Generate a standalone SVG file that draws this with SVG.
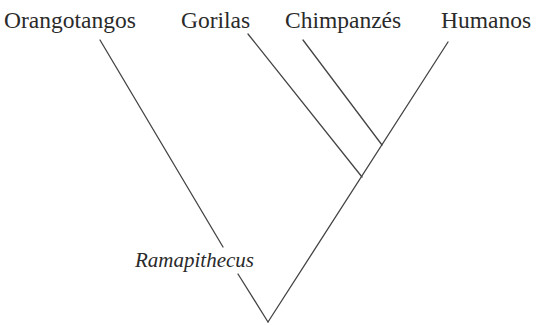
<svg xmlns="http://www.w3.org/2000/svg" width="536" height="326" viewBox="0 0 536 326">
<style>
.lbl{font-family:"Liberation Serif","Times New Roman",serif;font-size:23.5px;fill:#2a2a2a}
.it{font-family:"Liberation Serif","Times New Roman",serif;font-size:21px;font-style:italic;fill:#2a2a2a}
.edge{stroke:#444;stroke-width:1.3;fill:none;stroke-linecap:round}
</style>
<rect width="536" height="326" fill="#fff"/>
<g id="connectors">
<path class="edge" d="M100,40 L223,247"/>
<path class="edge" d="M238,274 L268,322"/>
<path class="edge" d="M268,322 L448,42"/>
<path class="edge" d="M248,34 L362,177"/>
<path class="edge" d="M303,40 L382,145"/>
</g>
<g id="orangotangos"><text class="lbl" x="4" y="28">Orangotangos</text></g>
<g id="gorilas"><text class="lbl" x="181" y="28">Gorilas</text></g>
<g id="chimpanzes"><text class="lbl" x="285" y="28">Chimpanzés</text></g>
<g id="humanos"><text class="lbl" x="441" y="28">Humanos</text></g>
<g id="ramapithecus"><text class="it" x="135" y="267">Ramapithecus</text></g>
</svg>
